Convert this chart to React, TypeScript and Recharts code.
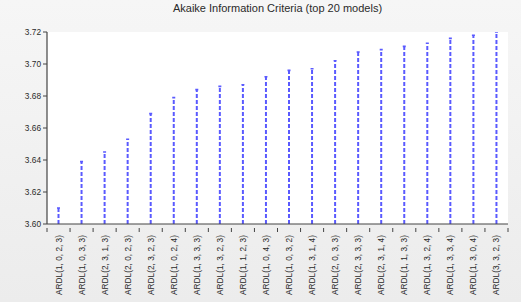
import { BarChart, Bar, XAxis, YAxis, CartesianGrid } from 'recharts'

const models = [
  'ARDL(1, 0, 2, 3)', 'ARDL(1, 0, 3, 3)', 'ARDL(2, 3, 1, 3)', 'ARDL(2, 0, 2, 3)',
  'ARDL(2, 3, 2, 3)', 'ARDL(1, 0, 2, 4)', 'ARDL(1, 3, 3, 3)', 'ARDL(1, 3, 2, 3)',
  'ARDL(1, 1, 2, 3)', 'ARDL(1, 0, 4, 3)', 'ARDL(1, 0, 3, 2)', 'ARDL(1, 3, 1, 4)',
  'ARDL(2, 0, 3, 3)', 'ARDL(2, 3, 3, 3)', 'ARDL(2, 3, 1, 4)', 'ARDL(1, 1, 3, 3)',
  'ARDL(1, 3, 2, 4)', 'ARDL(1, 3, 3, 4)', 'ARDL(1, 3, 0, 4)', 'ARDL(3, 3, 2, 3)',
]
const aic = [
  3.610, 3.639, 3.645, 3.653, 3.669, 3.679, 3.684, 3.686, 3.687, 3.692,
  3.696, 3.697, 3.702, 3.7075, 3.709, 3.711, 3.713, 3.716, 3.718, 3.720,
]
const yTicks = [3.6, 3.62, 3.64, 3.66, 3.68, 3.7, 3.72]

const data = models.map((m, i) => ({ model: m, aic: aic[i] }))

const W = 521
const H = 302
const LEFT = 47
const RIGHT = 13
const TOP = 32
const BOTTOM = 78
const halfBand = (W - LEFT - RIGHT) / models.length / 2
const STEM = '#5a5aff'

function Stem(props: any) {
  const { x, y, width, height } = props
  if (height == null) return null
  const cx = x + width / 2
  return (
    <g>
      <line x1={cx} x2={cx} y1={y + height} y2={y} stroke={STEM} strokeWidth={2} strokeDasharray="4 2" />
      <line x1={cx - 1.5} x2={cx + 1.5} y1={y} y2={y} stroke={STEM} strokeWidth={1.6} />
    </g>
  )
}

function ModelTick(props: any) {
  const { x, y, payload, index } = props
  const isLast = index === models.length - 1
  return (
    <g>
      <line x1={x - halfBand} x2={x - halfBand} y1={y - 4} y2={y} stroke="#444" />
      {isLast && <line x1={x + halfBand} x2={x + halfBand} y1={y - 4} y2={y} stroke="#444" />}
      <text
        x={x}
        y={y + 3}
        transform={`rotate(-90 ${x} ${y + 3})`}
        textAnchor="end"
        dominantBaseline="central"
        fontSize={8.3}
        fill="#2a2a2a"
        fontFamily="Liberation Sans, Arial, sans-serif"
      >
        {payload.value}
      </text>
    </g>
  )
}

export default function App() {
  return (
    <div
      style={{
        position: 'absolute',
        left: 0,
        top: 0,
        width: W,
        height: H,
        background: 'linear-gradient(#f6f6f6, #ececec)',
        fontFamily: 'Liberation Sans, Arial, sans-serif',
      }}
    >
      <div
        style={{
          position: 'absolute',
          top: 2,
          left: LEFT,
          width: W - LEFT - RIGHT,
          textAlign: 'center',
          fontSize: 11,
          color: '#2a2a2a',
        }}
      >
        Akaike Information Criteria (top 20 models)
      </div>
      <BarChart
        width={W}
        height={H}
        data={data}
        barCategoryGap={0}
        margin={{ top: TOP, right: RIGHT, bottom: 0, left: 0 }}
        style={{ position: 'absolute', left: 0, top: 0 }}
      >
        <CartesianGrid fill="#fff" horizontal={false} vertical={false} />
        <XAxis
          dataKey="model"
          interval={0}
          height={BOTTOM}
          tickLine={false}
          axisLine={{ stroke: '#444', strokeWidth: 1.2 }}
          tick={<ModelTick />}
        />
        <XAxis xAxisId="top" orientation="top" dataKey="model" height={0} tick={false} tickLine={false} axisLine={{ stroke: '#999', strokeWidth: 1.5 }} />
        <YAxis
          domain={[3.6, 3.72]}
          ticks={yTicks}
          allowDataOverflow
          width={LEFT}
          tickSize={4}
          tickLine={{ stroke: '#444' }}
          axisLine={{ stroke: '#444', strokeWidth: 1.2 }}
          tick={{ fontSize: 8.3, fill: '#2a2a2a' }}
          tickFormatter={(v: number) => v.toFixed(2)}
        />
        <YAxis yAxisId="right" orientation="right" domain={[3.6, 3.72]} width={0} tick={false} tickLine={false} axisLine={{ stroke: '#999', strokeWidth: 2 }} />
        <Bar dataKey="aic" shape={<Stem />} isAnimationActive={false} />
      </BarChart>
    </div>
  )
}
